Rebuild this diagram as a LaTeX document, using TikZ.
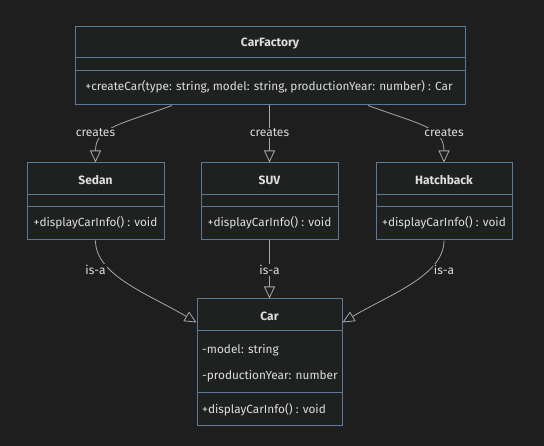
\documentclass[tikz,border=0pt]{standalone}
\usepackage{fontspec}
\setmainfont{Fira Sans}
\usetikzlibrary{arrows.meta, positioning, calc}
\definecolor{bgc}{HTML}{1E1E1E}
\definecolor{boxc}{HTML}{1F2020}
\definecolor{framec}{HTML}{5D7B98}
\definecolor{linkc}{HTML}{A8A8A8}
\definecolor{txtc}{HTML}{DEDEDE}

\begin{document}
\begin{tikzpicture}[x=1pt, y=-1pt,
    klass/.style={rectangle, draw=framec, fill=boxc, line width=1pt},
    kline/.style={draw=framec, line width=1pt},
    ktitle/.style={font=\fontsize{12}{14}\selectfont\bfseries, text=txtc, inner sep=0pt},
    ktext/.style={font=\fontsize{11.8}{14}\selectfont, text=txtc, inner sep=0pt},
    rel/.style={draw=linkc, line width=0.8pt, -{Triangle[open, length=12pt, width=11pt]}},
    lbl/.style={font=\fontsize{12}{14}\selectfont, text=txtc, fill=bgc, inner sep=1pt}]

    \useasboundingbox[fill=bgc] (0,0) rectangle (544,446);

    % classes
    \node[klass, minimum width=390, minimum height=78] (factory) at (270,66) {};
    \node[klass, minimum width=137, minimum height=77] (sedan) at (95.5,201.5) {};
    \node[klass, minimum width=137, minimum height=77] (suv) at (269.5,201.5) {};
    \node[klass, minimum width=136, minimum height=77] (hatch) at (444,201.5) {};
    \node[klass, minimum width=145, minimum height=127] (car) at (269.5,362.5) {};

    \foreach \k/\a/\b in {factory/31/44, sedan/32/44, suv/32/44, hatch/32/44, car/32/94} {
        \draw[kline] ($(\k.north west)+(0,\a)$) -- ($(\k.north east)+(0,\a)$);
        \draw[kline] ($(\k.north west)+(0,\b)$) -- ($(\k.north east)+(0,\b)$);
    }

    \node[ktitle] (factoryT) at (270,44) {CarFactory};
    \node[ktext] (factoryM) at (269,87) {+createCar(type: string, model: string, productionYear: number) : Car};

    \node[ktitle] (sedanT) at (95.5,180) {Sedan};
    \node[ktext] (sedanM) at (95.5,223) {+displayCarInfo() : void};
    \node[ktitle] (suvT) at (269.5,180) {SUV};
    \node[ktext] (suvM) at (269.5,223) {+displayCarInfo() : void};
    \node[ktitle] (hatchT) at (444,180) {Hatchback};
    \node[ktext] (hatchM) at (444,223) {+displayCarInfo() : void};

    \node[ktitle] (carT) at (269.5,316) {Car};
    \node[ktext, anchor=west] (carA1) at (202,350) {-model: string};
    \node[ktext, anchor=west] (carA2) at (202,376) {-productionYear: number};
    \node[ktext, anchor=west] (carM) at (202,410) {+displayCarInfo() : void};

    % relations
    \draw[rel] ($(factory.south)+(-98,0)$) .. controls +(-52,19) and +(0,-35) .. (sedan.north);
    \draw[rel] (factory.south -| suv.north) -- (suv.north);
    \draw[rel] ($(factory.south)+(98,0)$) .. controls +(52,19) and +(0,-35) .. (hatch.north);

    \draw[rel] (sedan.south) .. controls +(0,35) and +(-47,-28) .. ($(car.north west)+(0,24)$);
    \draw[rel] (suv.south) -- (car.north);
    \draw[rel] (hatch.south) .. controls +(0,35) and +(47,-28) .. ($(car.north east)+(0,24)$);

    \node[lbl] (cr1) at (95.5,133) {creates};
    \node[lbl] (cr2) at (269.5,133) {creates};
    \node[lbl] (cr3) at (444,133) {creates};
    \node[lbl] (is1) at (95.5,270) {is-a};
    \node[lbl] (is2) at (269.5,270) {is-a};
    \node[lbl] (is3) at (444,270) {is-a};
\end{tikzpicture}
\end{document}
